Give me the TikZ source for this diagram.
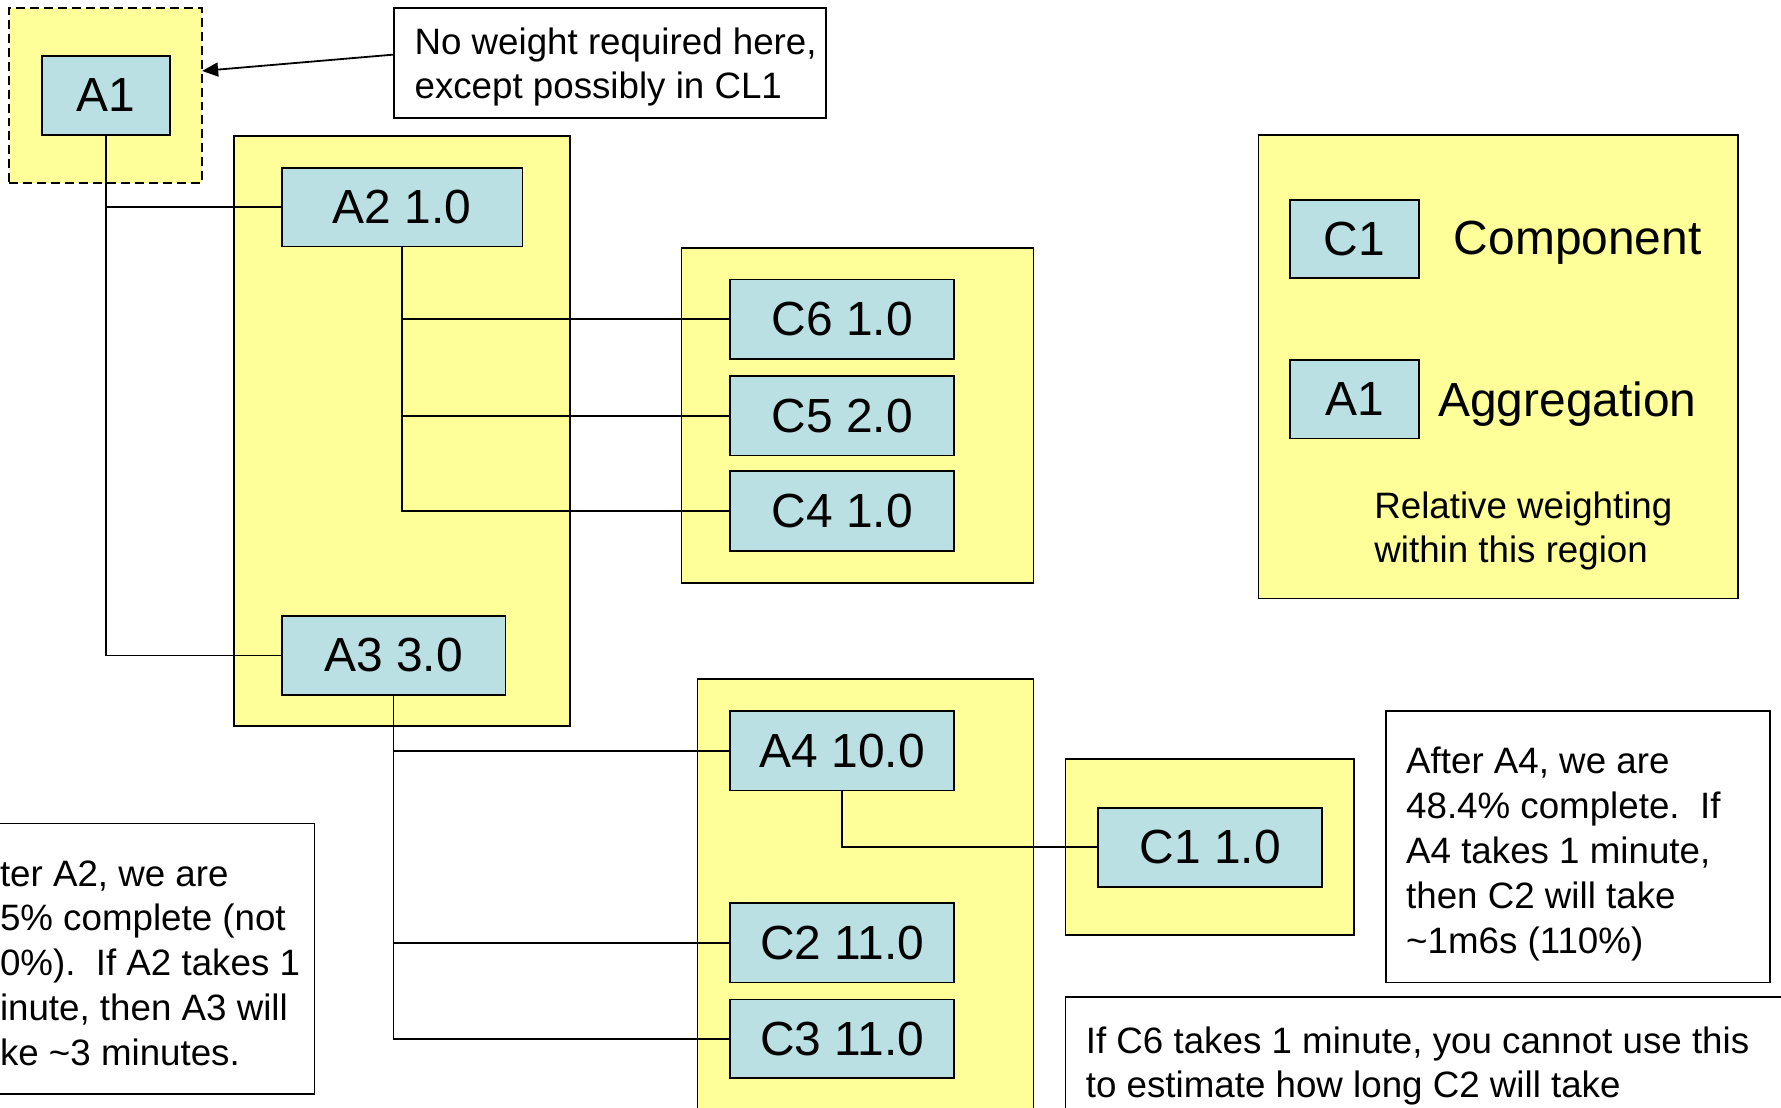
\documentclass[tikz,border=0pt]{standalone}
\usepackage{fontspec}
\setmainfont{Liberation Sans}
\usetikzlibrary{arrows.meta,calc}
\definecolor{yfill}{RGB}{255,255,153}
\definecolor{bfill}{RGB}{187,224,227}
\tikzset{
  ybox/.style={draw=black, fill=yfill, line width=0.9pt, inner sep=0pt, outer sep=0pt},
  bbox/.style={draw=black, fill=bfill, line width=0.9pt, inner sep=0pt, outer sep=0pt,
    font=\fontsize{24}{28}\selectfont},
  notebox/.style={draw=black, fill=white, line width=0.9pt, inner sep=0pt, outer sep=0pt},
  notetext/.style={anchor=west, align=left, inner sep=0pt, outer sep=0pt,
    font=\fontsize{18.4}{22.5}\selectfont},
  conn/.style={line width=0.9pt},
  plain/.style={inner sep=0pt, outer sep=0pt}
}
\begin{document}
\begin{tikzpicture}[x=0.02cm, y=-0.02cm]
\useasboundingbox (0,0) rectangle (1568,975);
\clip (0,0) rectangle (1568,975);
% regions
\node[ybox, dash pattern=on 4.5pt off 2.5pt, minimum width=3.40cm, minimum height=3.08cm] (cl1) at (93,84) {};
\node[ybox, minimum width=5.92cm, minimum height=10.38cm] (reg2) at (354,379.5) {};
\node[ybox, minimum width=6.20cm, minimum height=5.90cm] (reg3) at (755,365.5) {};
\node[ybox, minimum width=5.92cm, minimum height=8.04cm] (reg4) at (762,799) {};
\node[ybox, minimum width=5.08cm, minimum height=3.10cm] (reg5) at (1065,745.5) {};
\node[ybox, minimum width=8.44cm, minimum height=8.16cm] (legend) at (1319,323) {};
% note boxes
\node[notebox, minimum width=7.60cm, minimum height=1.94cm] (note1box) at (537,55.5) {};
\node[notebox, minimum width=5.90cm, minimum height=4.76cm] (note2box) at (129.5,844) {};
\node[notebox, minimum width=6.76cm, minimum height=4.78cm] (note3box) at (1389,745.5) {};
\node[notebox, minimum width=13.24cm, minimum height=2.26cm] (note4box) at (1269,934.5) {};
% note texts
\node[notetext] (note1) at (365,59) {No weight required here,\\except possibly in CL1};
\node[notetext] (note2) at (0,848)
  {ter A2, we are\\5\% complete (not\\0\%).\ \ If A2 takes 1\\inute, then A3 will\\ke \textasciitilde3 minutes.};
\node[notetext] (note3) at (1238,752)
  {After A4, we are\\48.4\% complete.\ \ If\\A4 takes 1 minute,\\then C2 will take\\\textasciitilde1m6s (110\%)};
\node[notetext] (note4) at (956,938.5)
  {If C6 takes 1 minute, you cannot use this\\to estimate how long C2 will take};
% blue nodes
\node[bbox, minimum width=2.26cm, minimum height=1.40cm] (A1) at (93.5,84) {A1};
\node[bbox, minimum width=4.24cm, minimum height=1.38cm] (A2) at (354,182.5) {A2 1.0};
\node[bbox, minimum width=3.94cm, minimum height=1.40cm] (C6) at (741.5,281) {C6 1.0};
\node[bbox, minimum width=3.94cm, minimum height=1.40cm] (C5) at (741.5,366) {C5 2.0};
\node[bbox, minimum width=3.94cm, minimum height=1.40cm] (C4) at (741.5,450) {C4 1.0};
\node[bbox, minimum width=3.94cm, minimum height=1.40cm] (A3) at (346.5,577) {A3 3.0};
\node[bbox, minimum width=3.94cm, minimum height=1.40cm] (A4) at (741.5,661) {A4 10.0};
\node[bbox, minimum width=3.94cm, minimum height=1.40cm] (C2) at (741.5,830) {C2 11.0};
\node[bbox, minimum width=3.94cm, minimum height=1.38cm] (C3) at (741.5,914.5) {C3 11.0};
\node[bbox, minimum width=3.94cm, minimum height=1.40cm] (C1) at (1065.5,746) {C1 1.0};
\node[bbox, minimum width=2.26cm, minimum height=1.38cm] (LC1) at (1192.5,210.5) {C1};
\node[bbox, minimum width=2.26cm, minimum height=1.38cm] (LA1) at (1192.5,351.5) {A1};
% legend texts
\node[plain, font=\fontsize{24}{28}\selectfont] (comp) at (1389,214) {Component};
\node[plain, font=\fontsize{24}{28}\selectfont] (aggr) at (1380,356) {Aggregation};
\node[notetext] (relw) at (1210,467.5) {Relative weighting\\within this region};
% connectors
\draw[conn] (A1.south) |- (A2.west);
\draw[conn] (A1.south) |- (A3.west);
\draw[conn] (A2.south) |- (C6.west);
\draw[conn] (A2.south) |- (C5.west);
\draw[conn] (A2.south) |- (C4.west);
\draw[conn] (A3.south) |- (A4.west);
\draw[conn] (A3.south) |- (C2.west);
\draw[conn] (A3.south) |- (C3.west);
\draw[conn] (A4.south) |- (C1.west);
\draw[conn, -{Triangle[length=8pt,width=7pt]}] ($(note1box.north west)!0.423!(note1box.south west)$) -- ($(cl1.north east)!0.36!(cl1.south east)$);
\end{tikzpicture}
\end{document}
